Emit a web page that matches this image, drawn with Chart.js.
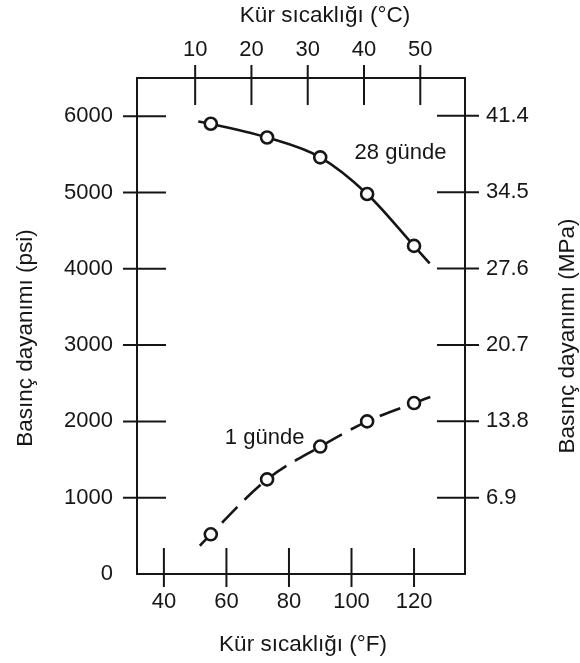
<!DOCTYPE html>
<html><head><meta charset="utf-8">
<script src="https://cdn.jsdelivr.net/npm/chart.js@4.4.0/dist/chart.umd.min.js"></script>
<style>html,body{margin:0;padding:0;background:#fff}canvas{display:block}</style>
</head><body>
<canvas id="c" width="580" height="663"></canvas>
<script>
// ---- data ----
const tempF = [55, 73, 90, 105, 120];
const psi28 = [5900, 5720, 5460, 4980, 4300];
const psi1 = [520, 1240, 1670, 2000, 2240];
const curve28F = [51, 55, 73, 90, 105, 120, 125];
const curve28Psi = [5930, 5900, 5720, 5460, 4980, 4300, 4070];
const curve1F = [51.5, 55, 73, 90, 105, 120, 128];
const curve1Psi = [370, 520, 1240, 1670, 2000, 2240, 2360];
const fTicks = [40, 60, 80, 100, 120];
const cTicks = [10, 20, 30, 40, 50];
const psiTicks = [0, 1000, 2000, 3000, 4000, 5000, 6000];
const mpaTicks = [6.9, 13.8, 20.7, 27.6, 34.5, 41.4];
const seriesLabels = ['28 günde', '1 günde'];
const xTitle = 'Kür sıcaklığı (°F)';
const x2Title = 'Kür sıcaklığı (°C)';
const yTitle = 'Basınç dayanımı (psi)';
const y2Title = 'Basınç dayanımı (MPa)';

const X_MIN = 31.4, X_MAX = 136.3, Y_MAX = 6500;
const PSI_TO_MPA = 0.00689476;
const fToC = f => (f - 32) * 5 / 9;

const INK = '#161616';
const FONT = "'Liberation Sans', Arial, Helvetica, sans-serif";
const FS = 22;
const TFS = 22.5;

const pts = (xs, ys) => xs.map((x, i) => ({x, y: ys[i]}));

const decor = {
  id: 'decor',
  beforeDatasetsDraw(chart) {
    const ctx = chart.ctx, a = chart.chartArea;
    const {x, x2, y, y2} = chart.scales;
    ctx.save();
    ctx.strokeStyle = INK; ctx.lineWidth = 2;
    const ln = (x1, y1, x3, y3) => { ctx.beginPath(); ctx.moveTo(x1, y1); ctx.lineTo(x3, y3); ctx.stroke(); };
    x.ticks.forEach(t => { const p = x.getPixelForValue(t.value); ln(p, a.bottom - 26, p, a.bottom + 13); });
    x2.ticks.forEach(t => { const p = x2.getPixelForValue(t.value); ln(p, a.top - 13, p, a.top + 27); });
    y.ticks.forEach(t => { if (t.value === 0) return; const p = y.getPixelForValue(t.value); ln(a.left - 14, p, a.left + 29, p); });
    y2.ticks.forEach(t => { const p = y2.getPixelForValue(t.value); ln(a.right - 28, p, a.right + 14, p); });
    ctx.restore();
  },
  afterDraw(chart) {
    const ctx = chart.ctx, a = chart.chartArea;
    const {x, y} = chart.scales;
    ctx.save();
    ctx.fillStyle = INK;
    ctx.font = FS + 'px ' + FONT;
    ctx.textBaseline = 'middle';
    ctx.textAlign = 'left';
    ctx.fillText(seriesLabels[0], x.getPixelForValue(101), y.getPixelForValue(5520));
    ctx.fillText(seriesLabels[1], x.getPixelForValue(59.5), y.getPixelForValue(1780));
    ctx.font = TFS + 'px ' + FONT;
    ctx.textAlign = 'center';
    const cx = (a.left + a.right) / 2, cy = (a.top + a.bottom) / 2;
    ctx.fillText(x2Title, cx + 24, 16);
    ctx.fillText(xTitle, cx + 2, 645);
    ctx.save(); ctx.translate(26, cy + 12); ctx.rotate(-Math.PI / 2); ctx.fillText(yTitle, 0, 0); ctx.restore();
    ctx.save(); ctx.translate(568, cy + 10); ctx.rotate(-Math.PI / 2); ctx.fillText(y2Title, 0, 0); ctx.restore();
    ctx.restore();
  }
};

const tickFont = {family: FONT, size: FS};

new Chart(document.getElementById('c'), {
  type: 'line',
  data: {
    datasets: [
      {data: pts(tempF, psi28), showLine: false, pointRadius: 6, pointBorderWidth: 2.6,
       pointBackgroundColor: '#fff', pointBorderColor: INK, order: 0},
      {data: pts(tempF, psi1), showLine: false, pointRadius: 6, pointBorderWidth: 2.6,
       pointBackgroundColor: '#fff', pointBorderColor: INK, order: 0},
      {data: pts(curve28F, curve28Psi), borderColor: INK, borderWidth: 2.6, pointRadius: 0,
       cubicInterpolationMode: 'monotone', fill: false, order: 1},
      {data: pts(curve1F, curve1Psi), borderColor: INK, borderWidth: 2.6, pointRadius: 0,
       borderDash: [22, 10], cubicInterpolationMode: 'monotone', fill: false, order: 1}
    ]
  },
  options: {
    responsive: false, animation: false, devicePixelRatio: 1,
    layout: {padding: 0},
    plugins: {legend: {display: false}, tooltip: {enabled: false}},
    scales: {
      x: {type: 'linear', position: 'bottom', min: X_MIN, max: X_MAX,
        afterBuildTicks: s => { s.ticks = fTicks.map(v => ({value: v})); },
        afterFit: s => { s.height = 89; },
        grid: {display: false, drawTicks: false},
        border: {display: true, color: INK, width: 2},
        ticks: {font: tickFont, color: INK, padding: 15, maxRotation: 0, callback: v => String(v)}},
      x2: {type: 'linear', position: 'top', min: fToC(X_MIN), max: fToC(X_MAX),
        afterBuildTicks: s => { s.ticks = cTicks.map(v => ({value: v})); },
        afterFit: s => { s.height = 78; },
        grid: {display: false, drawTicks: false},
        border: {display: true, color: INK, width: 2},
        ticks: {font: tickFont, color: INK, padding: 15, maxRotation: 0, callback: v => String(v)}},
      y: {type: 'linear', position: 'left', min: 0, max: Y_MAX,
        afterBuildTicks: s => { s.ticks = psiTicks.map(v => ({value: v})); },
        afterFit: s => { s.width = 137; },
        grid: {display: false, drawTicks: false},
        border: {display: true, color: INK, width: 2},
        ticks: {font: tickFont, color: INK, padding: 24, callback: v => String(v)}},
      y2: {type: 'linear', position: 'right', min: 0, max: Y_MAX * PSI_TO_MPA,
        afterBuildTicks: s => { s.ticks = mpaTicks.map(v => ({value: v})); },
        afterFit: s => { s.width = 115; },
        grid: {display: false, drawTicks: false},
        border: {display: true, color: INK, width: 2},
        ticks: {font: tickFont, color: INK, padding: 21, callback: v => v.toFixed(1)}}
    }
  },
  plugins: [decor]
});
</script>
</body></html>
